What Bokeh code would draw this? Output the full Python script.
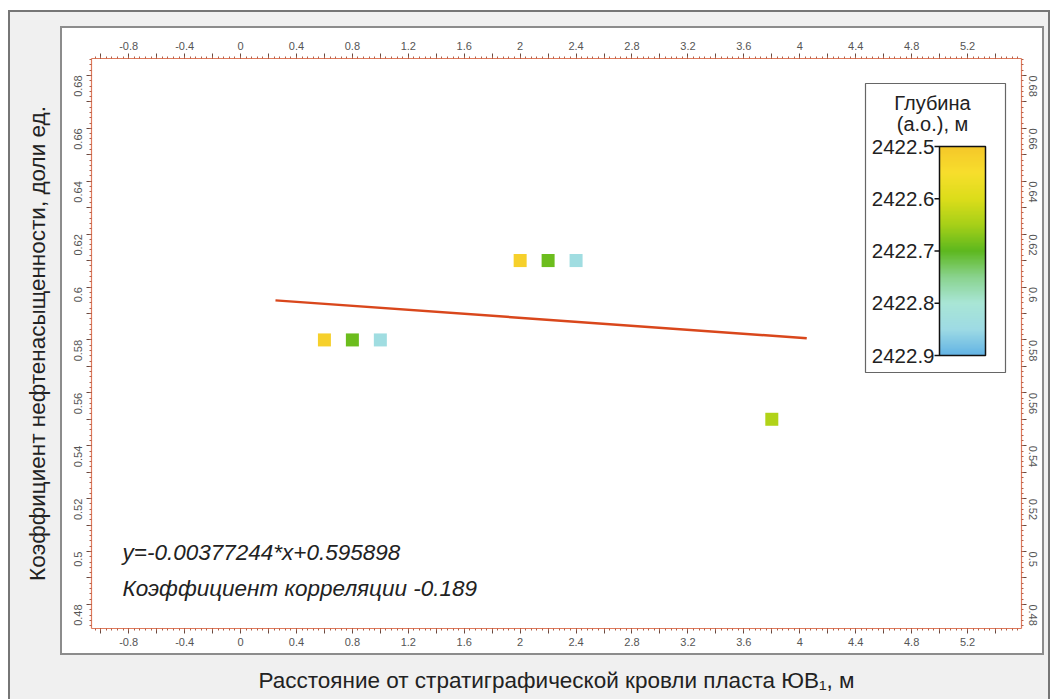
import numpy as np
from bokeh.plotting import figure
from bokeh.models import (Range1d, LinearAxis, SingleIntervalTicker, CustomJSTickFormatter,
                          LinearColorMapper, ColumnDataSource)
from bokeh.core.properties import value
from bokeh.embed import file_html
from bokeh.resources import INLINE

# ---------------- data ----------------
distance = [0.6, 0.8, 1.0, 2.0, 2.2, 2.4, 3.8]
oil_sat = [0.58, 0.58, 0.58, 0.61, 0.61, 0.61, 0.55]
depth = [2422.52, 2422.69, 2422.84, 2422.52, 2422.69, 2422.84, 2422.64]

slope = -0.00377244
intercept = 0.595898
corr = -0.189
trend_x = [0.25, 4.05]

cb_ticks = [2422.5, 2422.6, 2422.7, 2422.8, 2422.9]
cb_low, cb_high = 2422.5, 2422.9

# colour scale anchors (style)
anchor_depth = [2422.50, 2422.55, 2422.60, 2422.65, 2422.70, 2422.75, 2422.80, 2422.85, 2422.90]
anchor_col = ["#f5c82a", "#f7de2c", "#dcdd1a", "#a6d018", "#5db81e", "#8ad38e", "#a9e6d6", "#9edbe4", "#62b3e4"]

def hex2rgb(h):
    h = h.lstrip("#")
    return [int(h[i:i + 2], 16) for i in (0, 2, 4)]

N = 256
grid = np.linspace(cb_low, cb_high, N)
rgb = np.array([hex2rgb(c) for c in anchor_col], dtype=float)
pal = []
for g in grid:
    r = np.interp(g, anchor_depth, rgb[:, 0])
    gg = np.interp(g, anchor_depth, rgb[:, 1])
    b = np.interp(g, anchor_depth, rgb[:, 2])
    pal.append("#%02x%02x%02x" % (int(round(r)), int(round(gg)), int(round(b))))

mapper = LinearColorMapper(palette=pal, low=cb_low, high=cb_high)

# ---------------- layout constants (pixels) ----------------
W, H = 1060, 699
FL, FR, FT, FB = 91, 1021, 58, 628
FW, FH = FR - FL, FB - FT

FONT = "Liberation Sans"

page_bg = ", ".join([
    "linear-gradient(#ffffff,#ffffff) 62px 28px / 980px 625px no-repeat",
    "linear-gradient(#8c8c8c,#8c8c8c) 60px 26px / 984px 629px no-repeat",
    "linear-gradient(#f0f0f0,#f0f0f0) 10px 12px / 1038px 700px no-repeat",
    "linear-gradient(#767676,#767676) 8px 10px / 1042px 710px no-repeat",
    "#ffffff",
])

p = figure(width=W, height=H, output_backend="svg", toolbar_location=None,
           x_range=Range1d(-1.066, 5.586), y_range=Range1d(0.4709, 0.6864),
           min_border_left=FL, min_border_right=W - FR, min_border_top=FT, min_border_bottom=H - FB,
           border_fill_color=None, background_fill_color="white", outline_line_color=None,
           styles={"background": page_bg})
p.grid.visible = False

# pixel ranges for decorations inside the frame
p.extra_x_ranges = {"px": Range1d(0, FW)}
bar_top_fy, bar_bot_fy = 146 - FT, 355 - FT
ppu = (bar_bot_fy - bar_top_fy) / (cb_high - cb_low)
p.extra_y_ranges = {"px": Range1d(FH, 0),
                    "depth": Range1d(cb_high + (FH - bar_bot_fy) / ppu, cb_low - bar_top_fy / ppu)}

# ---------------- axes ----------------
xfmt = CustomJSTickFormatter(code="""
const k = Math.round(tick / 0.2);
return (k % 2 === 0) ? String(Math.round(tick * 10) / 10) : "";
""")
yfmt = CustomJSTickFormatter(code="""
const k = Math.round(tick / 0.01);
return (k % 2 === 0) ? String(Math.round(tick * 100) / 100) : "";
""")

def style_axis(ax):
    ax.axis_line_color = "#e07a5c"
    ax.axis_line_width = 1.2
    ax.major_tick_line_color = "#6a4a40"
    ax.minor_tick_line_color = "#b0604a"
    ax.major_tick_out = 5
    ax.major_tick_in = 0
    ax.minor_tick_out = 2
    ax.minor_tick_in = 0
    ax.major_label_text_font = FONT
    ax.major_label_text_font_size = "11px"
    ax.major_label_text_color = "#555555"
    ax.major_label_standoff = 4
    ax.axis_label_text_font = FONT
    ax.axis_label_text_font_size = "22.5px"
    ax.axis_label_text_font_style = "normal"
    ax.axis_label_text_color = "#222222"

xb = p.xaxis[0]
yl = p.yaxis[0]
xt = LinearAxis()
yr = LinearAxis()
p.add_layout(xt, "above")
p.add_layout(yr, "right")

for ax in (xb, xt):
    ax.ticker = SingleIntervalTicker(interval=0.2, num_minor_ticks=5)
    ax.formatter = xfmt
    style_axis(ax)
for ax in (yl, yr):
    ax.ticker = SingleIntervalTicker(interval=0.01, num_minor_ticks=5)
    ax.formatter = yfmt
    style_axis(ax)
yl.major_label_orientation = np.pi / 2
yr.major_label_orientation = -np.pi / 2
yl.major_label_standoff = 8
yr.major_label_standoff = 6

xb.axis_label = "Расстояние от стратиграфической кровли пласта ЮВ₁, м"
xb.axis_label_standoff = 19
yl.axis_label = "Коэффициент нефтенасыщенности, доли ед."
yl.axis_label_standoff = 18

# ---------------- data marks ----------------
src = ColumnDataSource(dict(x=distance, y=oil_sat, d=depth))
tx = np.array(trend_x)
p.line(tx, slope * tx + intercept, line_color="#d9471c", line_width=2.5)
p.scatter("x", "y", source=src, marker="square", size=13,
          fill_color={"field": "d", "transform": mapper}, line_color=None)

# ---------------- equation text ----------------
eq_src = ColumnDataSource(dict(
    x=[31, 31], y=[494, 530],
    t=["y=%.8g*x+%g" % (slope, intercept), "Коэффициент корреляции %g" % corr]))
p.text("x", "y", text="t", source=eq_src, x_range_name="px", y_range_name="px",
       text_font=value(FONT), text_font_style="italic", text_font_size="22.5px",
       text_color="#222222", text_baseline="middle", text_align="left")

# ---------------- colour bar (custom, labels on the left) ----------------
p.quad(left=[774], right=[914], top=[25], bottom=[314], x_range_name="px", y_range_name="px",
       fill_color="white", line_color="#666666", line_width=1.2)
p.text(x=[841, 841], y=[44, 65], text=["Глубина", "(а.о.), м"], x_range_name="px", y_range_name="px",
       text_font=value(FONT), text_font_size="20px", text_color="#222222",
       text_align="center", text_baseline="middle")
p.image(image=[grid.reshape(-1, 1)], x=848, y=cb_low, dw=46, dh=cb_high - cb_low,
        color_mapper=mapper, x_range_name="px", y_range_name="depth")
p.quad(left=[848], right=[894], top=[cb_low], bottom=[cb_high], x_range_name="px", y_range_name="depth",
       fill_color=None, line_color="#111111", line_width=1.5)
p.segment(x0=843, x1=848, y0=cb_ticks, y1=cb_ticks, x_range_name="px", y_range_name="depth",
          line_color="#111111", line_width=1.5)
p.text(x=843, y=cb_ticks, text=["%g" % t for t in cb_ticks], x_range_name="px", y_range_name="depth",
       text_font=value(FONT), text_font_size="20.5px", text_color="#222222",
       text_align="right", text_baseline="middle")

open("out.html", "w").write(file_html(p, INLINE))
